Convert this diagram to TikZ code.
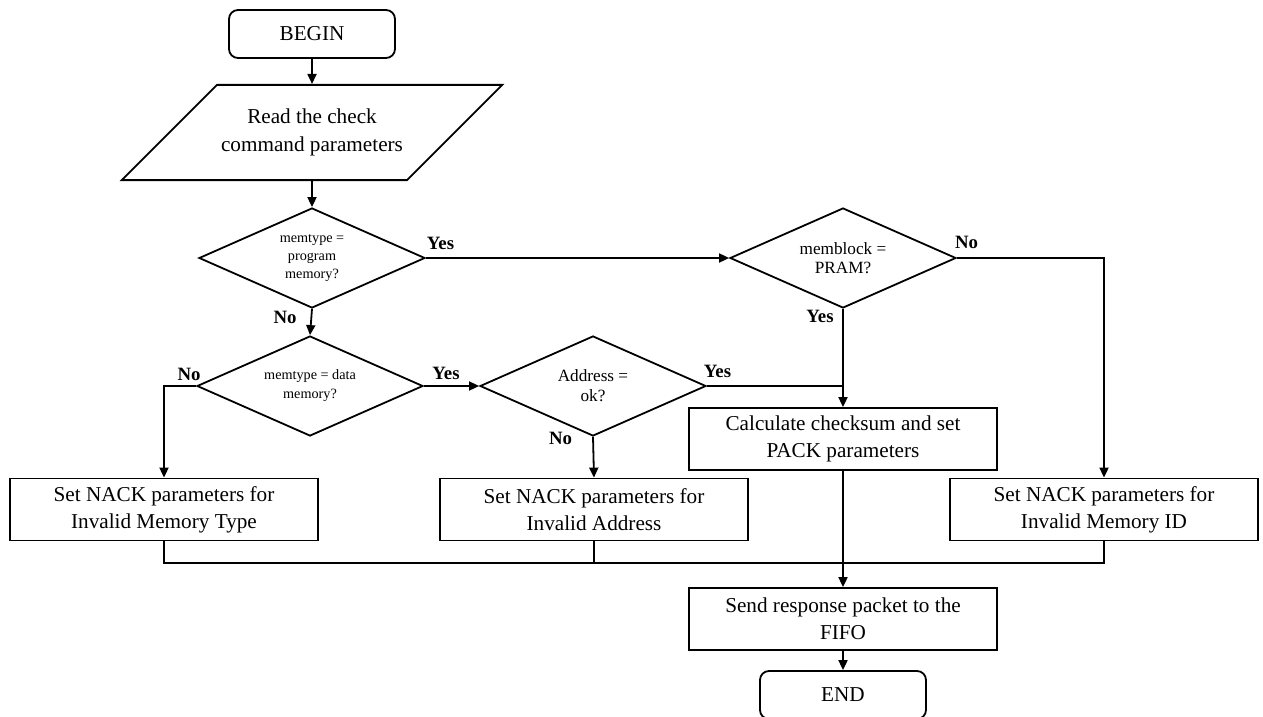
\documentclass[tikz,border=0pt]{standalone}
\usepackage{fontspec}
\setmainfont{Liberation Serif}
\usetikzlibrary{shapes.geometric,arrows.meta}

\begin{document}
\begin{tikzpicture}[x=0.5pt,y=-0.5pt,line width=0.9pt,
  arr/.style={-{Triangle[length=5pt,width=4.5pt]}},
  term/.style={draw,rounded corners=4.5pt,minimum width=83pt,minimum height=24pt,
    font=\fontsize{10.6}{13.5}\selectfont},
  proc/.style={draw,align=center,minimum width=154pt,minimum height=31pt,inner sep=1pt,
    font=\fontsize{10.6}{13.5}\selectfont},
  io/.style={draw,trapezium,trapezium left angle=45,trapezium right angle=135,
    trapezium stretches body=true,minimum width=187pt,inner ysep=12pt,inner xsep=2pt,
    align=center,font=\fontsize{10.6}{14}\selectfont},
  cond/.style={draw,diamond,aspect=2.26,minimum width=113pt,minimum height=50pt,
    inner sep=0pt,align=center},
  lbl/.style={font=\fontsize{9.4}{11}\selectfont\bfseries,inner sep=0pt}]
\useasboundingbox (0,0) rectangle (1263,717);
\node[term] (begin) at (312,34) {BEGIN};
\node[io] (read) at (312,132.5) {Read the check\\command parameters};
\node[cond,font=\fontsize{7.1}{9}\selectfont] (prog) at (312,258) {memtype =\\program\\memory?};
\node[cond,font=\fontsize{8.6}{9.8}\selectfont] (pram) at (843,258) {memblock =\\PRAM?};
\node[cond,font=\fontsize{7.1}{9.5}\selectfont] (data) at (310,386) {memtype = data\\memory?};
\node[cond,font=\fontsize{8.6}{10}\selectfont] (addr) at (593,386) {Address =\\ok?};
\node[proc] (calc) at (843,439) {Calculate checksum and set\\PACK parameters};
\node[proc] (badtype) at (164,509.5) {Set NACK parameters for\\Invalid Memory Type};
\node[proc] (badaddr) at (594,509.5) {Set NACK parameters for\\Invalid Address};
\node[proc] (badid) at (1104,509.5) {Set NACK parameters for\\Invalid Memory ID};
\node[proc] (send) at (843,619) {Send response packet to the\\FIFO};
\node[term] (end) at (843,695) {END};
\coordinate (merge) at (843,563);
\node[lbl] (progyes) at (440.5,243) {Yes};
\node[lbl] (progno) at (285,317) {No};
\node[lbl] (pramno) at (966.5,242) {No};
\node[lbl] (pramyes) at (820,316) {Yes};
\node[lbl] (datano) at (189,374) {No};
\node[lbl] (datayes) at (446,373) {Yes};
\node[lbl] (addryes) at (717.5,371) {Yes};
\node[lbl] (addrno) at (560.5,438) {No};
\draw[arr] (begin) -- (read);
\draw[arr] (read) -- (prog);
\draw[arr] (prog.east) -- (pram.west);
\draw[arr] (prog.south) -- (data.north);
\draw[arr] (pram.east) -| (badid.north);
\draw[arr] (pram.south) -- (calc.north);
\draw[arr] (data.west) -| (badtype.north);
\draw[arr] (data.east) -- (addr.west);
\draw (addr.east) -- (addr.east -| calc.north);
\draw[arr] (addr.south) -- (badaddr.north);
\draw (badtype.south) |- (merge);
\draw (badaddr.south) -- (badaddr.south |- merge);
\draw (badid.south) |- (merge);
\draw[arr] (calc.south) -- (send.north);
\draw[arr] (send.south) -- (end.north);
\end{tikzpicture}
\end{document}
